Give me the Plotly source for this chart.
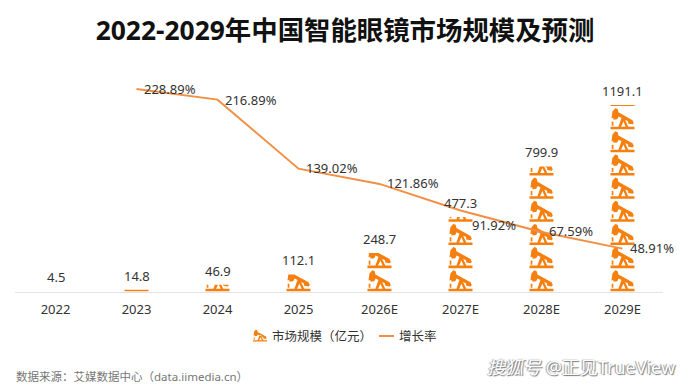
import plotly.graph_objects as go

categories = ["2022", "2023", "2024", "2025", "2026E", "2027E", "2028E", "2029E"]
market_size = [4.5, 14.8, 46.9, 112.1, 248.7, 477.3, 799.9, 1191.1]
growth_rate = [None, 228.89, 216.89, 139.02, 121.86, 91.92, 67.59, 48.91]
growth_labels = [None, "228.89%", "216.89%", "139.02%", "121.86%", "91.92%", "67.59%", "48.91%"]
label_shift = [None, (5, 0), (5, 0), (5, 1), (5, 1), (9, -15), (5, 1), (5, 1)]

UNIT = 147.5
ICON_W = 0.296
ORANGE = "#F5800F"
LINE = "#F28F45"
TEXT = "#333333"
FONT = "Noto Sans, Noto Sans CJK SC, sans-serif"

# plot-area box in page pixels, used to convert page pixels to paper fractions
L, R, T, B = 15, 663, 62, 292

# one pump-jack glyph in unit coordinates (u: 0..1 across, v: 0..1 up one repeat)
GLYPH = [
    [(0, .03), (1, .03), (1, .14), (0, .14)],
    [(.33, .14), (.47, .56), (.58, .50), (.74, .14), (.63, .14), (.54, .36), (.44, .14)],
    [(.05, .18), (.12, .18), (.12, .36), (.05, .36)],
    [(.04, .50), (.08, .80), (.20, .94), (.30, .90), (.33, .76), (.92, .42), (.97, .30), (.93, .24),
     (.74, .27), (.73, .37), (.34, .58), (.28, .46), (.13, .44), (.11, .52)],
]


def clip_top(poly, vmax):
    out = []
    for i, (u1, v1) in enumerate(poly):
        u2, v2 = poly[(i + 1) % len(poly)]
        if v1 <= vmax:
            out.append((u1, v1))
        if (v1 <= vmax) != (v2 <= vmax):
            t = (vmax - v1) / (v2 - v1)
            out.append((u1 + t * (u2 - u1), vmax))
    return out


def pictorial(values):
    xs, ys = [], []
    for i, val in enumerate(values):
        n = val / UNIT
        k = 0
        while k < n:
            for poly in GLYPH:
                part = clip_top(poly, n - k)
                if len(part) < 3:
                    continue
                for u, v in part + part[:1]:
                    xs.append(i + (u - .5) * ICON_W)
                    ys.append((k + v) * UNIT)
                xs.append(None)
                ys.append(None)
            k += 1
    return xs, ys


fig = go.Figure()
px, py = pictorial(market_size)
fig.add_trace(go.Scatter(x=px, y=py, mode="lines", fill="toself", fillcolor=ORANGE,
                         line=dict(width=0, color=ORANGE), name="市场规模（亿元）",
                         hoverinfo="skip", showlegend=False))
idx = list(range(len(categories)))
fig.add_trace(go.Scatter(x=idx[1:], y=growth_rate[1:], yaxis="y2", mode="lines",
                         line=dict(color=LINE, width=2), name="增长率", showlegend=False))

annotations = []
for i, v in enumerate(market_size):
    annotations.append(dict(x=i, y=v, xref="x", yref="y", text=str(v), showarrow=False, xanchor="center",
                            yanchor="middle", yshift=14, font=dict(size=13, color=TEXT, family=FONT)))
for i, (g, lab, sh) in enumerate(zip(growth_rate, growth_labels, label_shift)):
    if g is None:
        continue
    annotations.append(dict(x=i, y=g, xref="x", yref="y2", text=lab, showarrow=False, xanchor="left",
                            xshift=sh[0], yshift=sh[1], font=dict(size=13, color=TEXT, family=FONT)))

px0 = lambda p: (p - L) / (R - L)
py0 = lambda p: (B - p) / (B - T)
annotations += [
    dict(x=px0(270), y=py0(336), xref="paper", yref="paper", text="市场规模（亿元）", showarrow=False,
         xanchor="left", yanchor="middle", font=dict(size=12.5, color=TEXT, family=FONT)),
    dict(x=px0(397), y=py0(336), xref="paper", yref="paper", text="增长率", showarrow=False,
         xanchor="left", yanchor="middle", font=dict(size=12.5, color=TEXT, family=FONT)),
    dict(x=px0(14), y=py0(376), xref="paper", yref="paper", text="数据来源：艾媒数据中心（data.iimedia.cn）",
         showarrow=False, xanchor="left", yanchor="middle", font=dict(size=11.5, color="#777777", family=FONT)),
    dict(x=px0(485), y=py0(367), xref="paper", yref="paper", text="<i>搜狐号</i> @正见TrueView",
         showarrow=False, xanchor="left", yanchor="middle",
         font=dict(size=18, color="#FFFFFF", family=FONT, shadow="1px 1px 1px #777, -1px 0 1px #999")),
]

# legend key drawn from the same glyph
key_path = ""
for poly in GLYPH:
    pts = [(253 + u * 14, 342 - v * 13) for u, v in poly]
    key_path += "M" + "L".join(f"{px0(a):.5f},{py0(b):.5f}" for a, b in pts) + "Z"
shapes = [
    dict(type="path", xref="paper", yref="paper", path=key_path, fillcolor=ORANGE, line=dict(width=0)),
    dict(type="line", xref="paper", yref="paper", x0=px0(379), x1=px0(394), y0=py0(336), y1=py0(336),
         line=dict(color=LINE, width=2)),
]

fig.update_layout(
    width=690, height=388, autosize=False,
    margin=dict(l=L, r=690 - R, t=T, b=388 - B),
    paper_bgcolor="white", plot_bgcolor="white",
    showlegend=False,
    title=dict(text="<b>2022-2029年中国智能眼镜市场规模及预测</b>", x=345 / 690, xanchor="center",
               y=1 - 31 / 388, yanchor="middle", font=dict(size=26.4, color="#111111", family=FONT)),
    xaxis=dict(range=[-.5, 7.5], tickmode="array", tickvals=idx, ticktext=categories, showgrid=False,
               zeroline=False, showline=True, linecolor="#E3E3E3", linewidth=1, ticks="",
               ticklabelstandoff=5, tickfont=dict(size=13, color=TEXT, family=FONT)),
    yaxis=dict(range=[0, 1465], visible=False),
    yaxis2=dict(range=[0, 259.3], visible=False, overlaying="y", side="right"),
    annotations=annotations, shapes=shapes,
)
fig.write_html("out.html", post_script="document.body.style.margin='0';",
               config={"displayModeBar": False})
